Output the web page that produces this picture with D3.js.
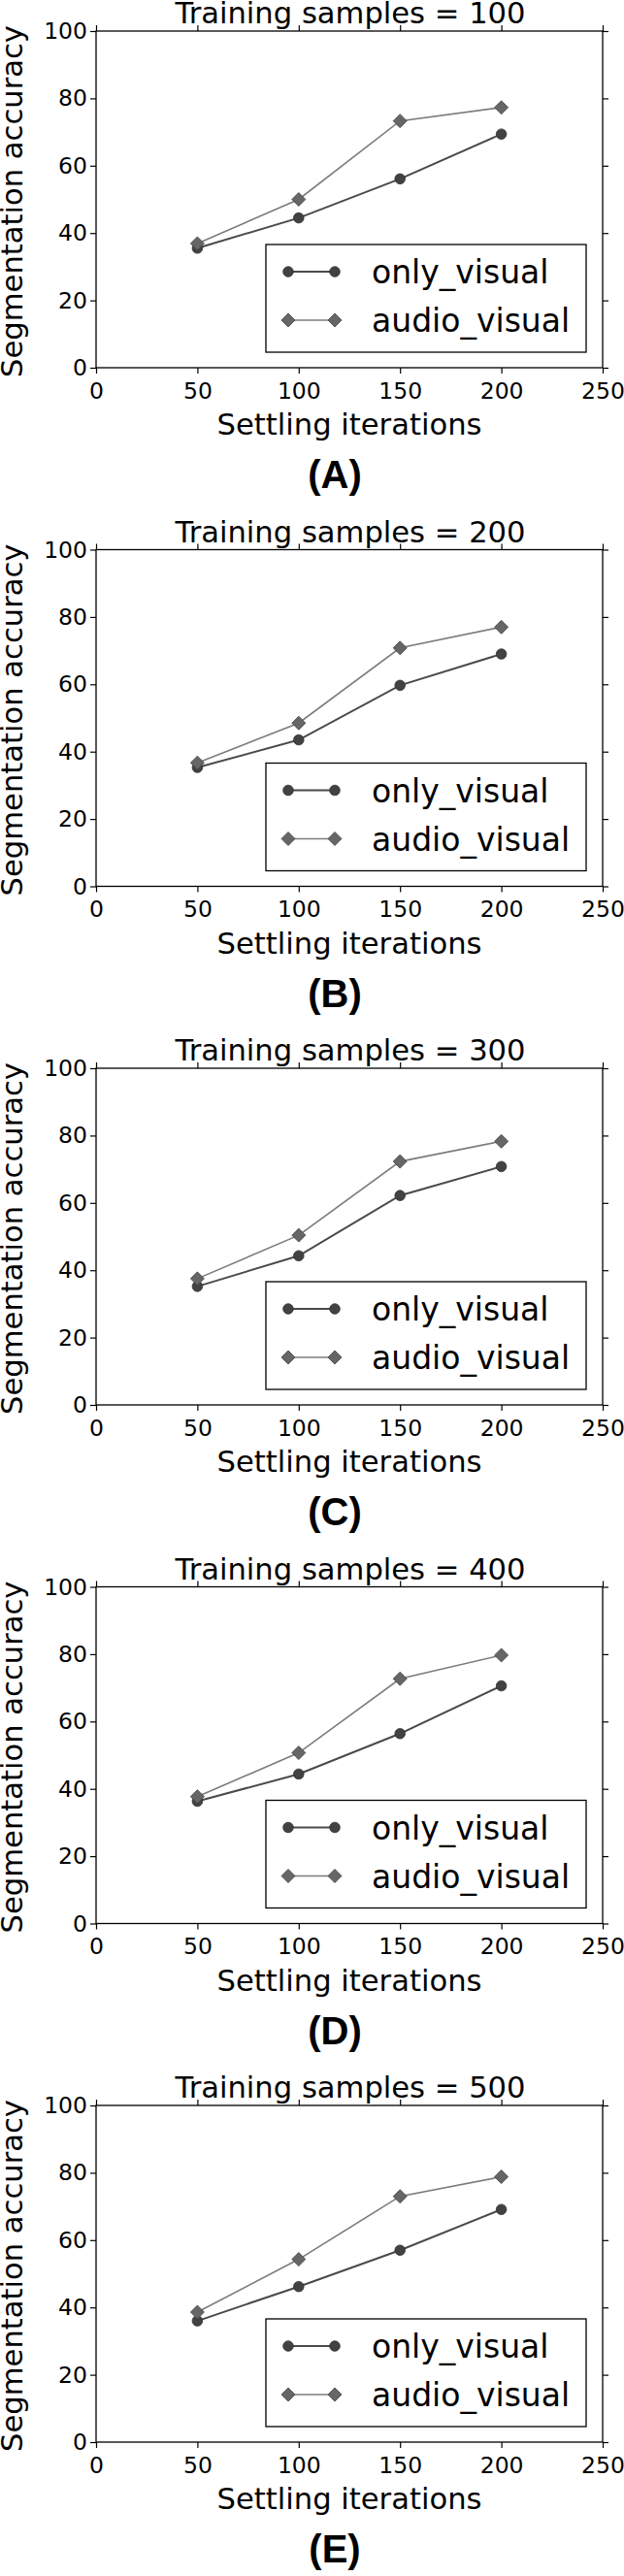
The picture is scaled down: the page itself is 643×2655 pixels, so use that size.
<!DOCTYPE html>
<html>
<head>
<meta charset="utf-8">
<script src="https://cdn.jsdelivr.net/npm/d3@7"></script>
<style>
  body { margin: 0; background: #fff; }
</style>
</head>
<body>
<div class="canva"></div>
<script>
const iterations = [50, 100, 150, 200];
const trainingSamples = [100, 200, 300, 400, 500];
const panelLabels = ["(A)", "(B)", "(C)", "(D)", "(E)"];
const seriesNames = ["only_visual", "audio_visual"];

const onlyVisual = [
    [35.5, 44.5, 56.1, 69.4],
    [35.3, 43.5, 59.7, 69.0],
    [35.2, 44.3, 62.2, 70.8],
    [36.3, 44.4, 56.4, 70.6],
    [36.0, 46.2, 57.0, 69.1]];

const audioVisual = [
    [36.9, 50.0, 73.3, 77.3],
    [36.7, 48.5, 70.8, 77.0],
    [37.5, 50.4, 72.3, 78.3],
    [37.7, 50.7, 72.7, 79.7],
    [38.6, 54.3, 73.0, 78.8]];

const xTicks = [0, 50, 100, 150, 200, 250];
const yTicks = [0, 20, 40, 60, 80, 100];

const width = 643;
const height = 2655;

const svg = d3.select(".canva").append("svg")
    .attr("width", width)
    .attr("height", height);

svg.append("rect")
    .attr("width", width)
    .attr("height", height)
    .attr("fill", "white");

const plotLeft = 99;
const plotWidth = 522;
const plotHeight = 347;
const firstTop = 32;
const panelStep = 534.5;

const x = d3.scaleLinear().domain([0, 250]).range([0, plotWidth]);
const y = d3.scaleLinear().domain([0, 100]).range([plotHeight, 0]);

const font = "'DejaVu Sans', sans-serif";

const line = d3.line()
    .x((d, i) => x(iterations[i]))
    .y(d => y(d));

const diamond = d3.symbol().type(d3.symbolSquare).size(98);

trainingSamples.forEach((n, p) => {
    const g = svg.append("g")
        .attr("transform", `translate(${plotLeft}, ${firstTop + p * panelStep})`);

    // axes, ticks pointing out on all four sides
    const bottom = g.append("g")
        .attr("transform", `translate(0, ${plotHeight})`)
        .call(d3.axisBottom(x).tickValues(xTicks).tickSize(6).tickSizeOuter(0).tickPadding(9));
    const left = g.append("g")
        .call(d3.axisLeft(y).tickValues(yTicks).tickSize(6).tickSizeOuter(0).tickPadding(3));
    g.append("g")
        .call(d3.axisTop(x).tickValues(xTicks).tickSize(6).tickSizeOuter(0).tickFormat(""));
    g.append("g")
        .attr("transform", `translate(${plotWidth}, 0)`)
        .call(d3.axisRight(y).tickValues(yTicks).tickSize(6).tickSizeOuter(0).tickFormat(""));

    g.selectAll(".domain").remove();
    g.selectAll(".tick line").attr("stroke", "#000").attr("stroke-width", 1.2);
    g.selectAll(".tick text")
        .attr("fill", "#000")
        .style("font-family", font)
        .style("font-size", "23.5px");

    g.append("rect")
        .attr("width", plotWidth)
        .attr("height", plotHeight)
        .attr("fill", "none")
        .attr("stroke", "#000")
        .attr("stroke-width", 1.3);

    // series
    g.append("path")
        .attr("d", line(onlyVisual[p]))
        .attr("fill", "none")
        .attr("stroke", "#4a4a4a")
        .attr("stroke-width", 2);
    g.selectAll(".dot")
        .data(onlyVisual[p])
        .enter().append("circle")
        .attr("cx", (d, i) => x(iterations[i]))
        .attr("cy", d => y(d))
        .attr("r", 5.3)
        .attr("fill", "#424242")
        .attr("stroke", "#2e2e2e")
        .attr("stroke-width", 0.8);

    g.append("path")
        .attr("d", line(audioVisual[p]))
        .attr("fill", "none")
        .attr("stroke", "#7c7c7c")
        .attr("stroke-width", 1.6);
    g.selectAll(".dia")
        .data(audioVisual[p])
        .enter().append("path")
        .attr("d", diamond)
        .attr("transform", (d, i) => `translate(${x(iterations[i])}, ${y(d)}) rotate(45)`)
        .attr("fill", "#666666")
        .attr("stroke", "#444444")
        .attr("stroke-width", 0.8);

    // legend
    const leg = g.append("g").attr("transform", "translate(175, 220)");
    leg.append("rect")
        .attr("width", 330)
        .attr("height", 111)
        .attr("fill", "white")
        .attr("stroke", "#000")
        .attr("stroke-width", 1.3);

    seriesNames.forEach((name, k) => {
        const ly = 28 + k * 50;
        leg.append("line")
            .attr("x1", 23).attr("x2", 71)
            .attr("y1", ly).attr("y2", ly)
            .attr("stroke", k === 0 ? "#4a4a4a" : "#7c7c7c")
            .attr("stroke-width", k === 0 ? 2 : 1.6);
        [23, 71].forEach(mx => {
            if (k === 0) {
                leg.append("circle")
                    .attr("cx", mx).attr("cy", ly).attr("r", 5.3)
                    .attr("fill", "#424242")
                    .attr("stroke", "#2e2e2e")
                    .attr("stroke-width", 0.8);
            } else {
                leg.append("path")
                    .attr("d", diamond)
                    .attr("transform", `translate(${mx}, ${ly}) rotate(45)`)
                    .attr("fill", "#666666")
                    .attr("stroke", "#444444")
                    .attr("stroke-width", 0.8);
            }
        });
        leg.append("text")
            .attr("x", 109)
            .attr("y", ly + 12)
            .style("font-family", font)
            .style("font-size", "33px")
            .text(name);
    });

    // titles
    g.append("text")
        .attr("x", plotWidth / 2 + 1)
        .attr("y", -8)
        .attr("text-anchor", "middle")
        .style("font-family", font)
        .style("font-size", "30.6px")
        .text(`Training samples = ${n}`);

    g.append("text")
        .attr("x", plotWidth / 2)
        .attr("y", 416)
        .attr("text-anchor", "middle")
        .style("font-family", font)
        .style("font-size", "30.6px")
        .text("Settling iterations");

    g.append("text")
        .attr("transform", `translate(${23 - plotLeft}, ${plotHeight / 2 + 2}) rotate(-90)`)
        .attr("text-anchor", "middle")
        .style("font-family", font)
        .style("font-size", "30.6px")
        .text("Segmentation accuracy");

    g.append("text")
        .attr("x", 345 - plotLeft)
        .attr("y", 471)
        .attr("text-anchor", "middle")
        .style("font-family", "'Liberation Sans', Arial, sans-serif")
        .style("font-weight", "bold")
        .style("font-size", "40px")
        .text(panelLabels[p]);
});
</script>
</body>
</html>
